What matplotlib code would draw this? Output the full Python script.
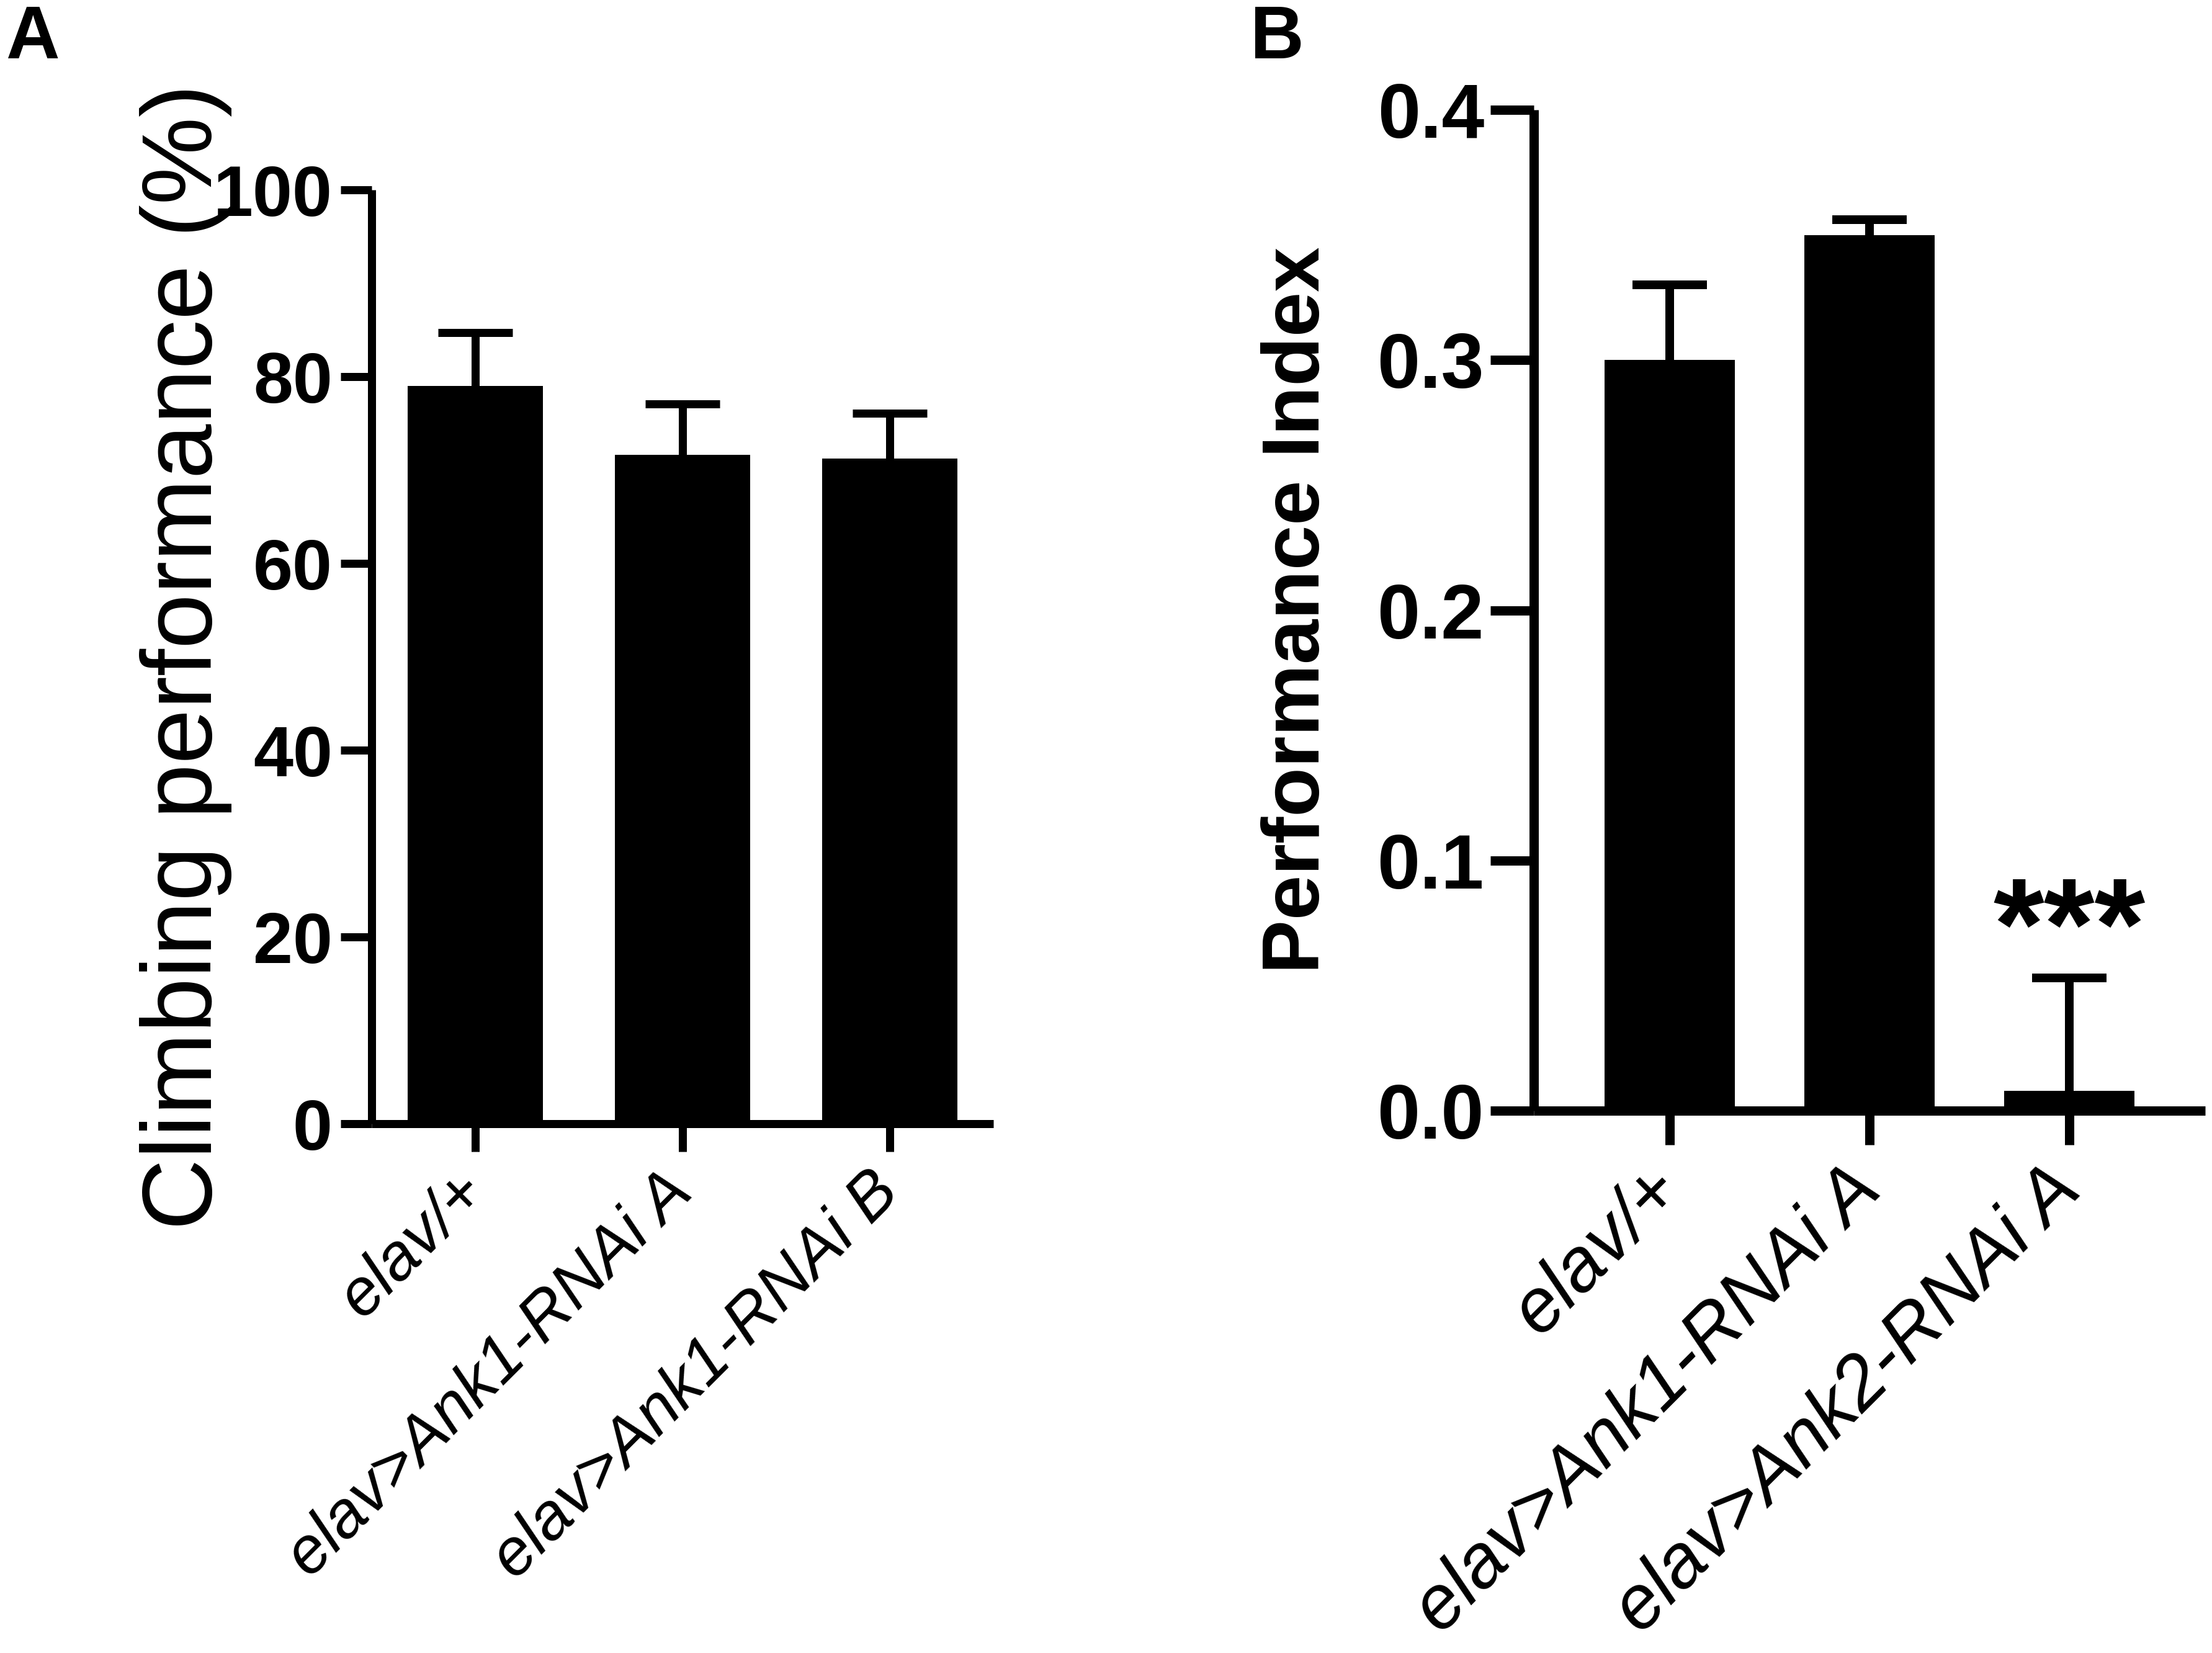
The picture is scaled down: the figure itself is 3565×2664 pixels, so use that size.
import matplotlib
matplotlib.use("Agg")
import matplotlib.pyplot as plt
import numpy as np

plt.rcParams['font.family'] = ['Liberation Sans', 'DejaVu Sans']

# ---- data ----
cats_a = ["elav/+", "elav>Ank1-RNAi A", "elav>Ank1-RNAi B"]
vals_a = [79.0, 71.6, 71.2]
err_a = [5.7, 5.5, 4.9]
yticks_a = [0, 20, 40, 60, 80, 100]

cats_b = ["elav/+", "elav>Ank1-RNAi A", "elav>Ank2-RNAi A"]
vals_b = [0.300, 0.350, 0.008]
err_b = [0.030, 0.006, 0.045]
yticks_b = [0.0, 0.1, 0.2, 0.3, 0.4]
ytick_labels_b = ["0.0", "0.1", "0.2", "0.3", "0.4"]
sig_b = ["", "", "***"]

W, H = 3565, 2664
DPI = 100
fig = plt.figure(figsize=(W / DPI, H / DPI), dpi=DPI)

def px2pt(p):
    return p * 72.0 / DPI

def fig_rect(l, r, b, t):
    return [l / W, 1 - b / H, (r - l) / W, (b - t) / H]

def upper_errorbars(ax, x, vals, errs, lw):
    eb = ax.errorbar(x, vals, yerr=[np.zeros(len(errs)), errs], fmt='none',
                     ecolor='black', elinewidth=lw, capsize=px2pt(60),
                     capthick=lw, zorder=1)
    for cl in eb[1]:
        if np.allclose(cl.get_ydata(), vals):
            cl.set_visible(False)
    return eb

# ---- Panel A ----
axA = fig.add_axes(fig_rect(599, 1601, 1811, 306))
xa = np.arange(len(cats_a))
axA.bar(xa, vals_a, width=0.65, color='black', edgecolor='none', zorder=2)
upper_errorbars(axA, xa, vals_a, err_a, px2pt(13))
axA.set_xlim(-0.5, 2.5)
axA.set_ylim(0, 100)
axA.set_yticks(yticks_a)
axA.set_yticklabels([str(v) for v in yticks_a], fontweight='bold', fontsize=px2pt(115))
axA.set_xticks(xa)
axA.set_xticklabels(cats_a, rotation=45, ha='right', va='center',
                    rotation_mode='anchor', fontstyle='italic', fontsize=px2pt(106))
for s in ['top', 'right']:
    axA.spines[s].set_visible(False)
for s in ['left', 'bottom']:
    axA.spines[s].set_linewidth(px2pt(13))
    axA.spines[s].set_capstyle('butt')
axA.tick_params(axis='y', length=px2pt(50), width=px2pt(13), pad=px2pt(13))
axA.tick_params(axis='x', length=px2pt(45), width=px2pt(13), pad=px2pt(50))
axA.set_ylabel("Climbing performance (%)", fontsize=px2pt(159))
axA.yaxis.label.set_va('baseline')
axA.yaxis.set_label_coords(-0.2575, 0.5)

# ---- Panel B ----
axB = fig.add_axes(fig_rect(2472, 3554, 1790, 177))
xb = np.arange(len(cats_b))
axB.bar(xb, vals_b, width=0.65, color='black', edgecolor='none', zorder=2)
upper_errorbars(axB, xb, vals_b, err_b, px2pt(14))
axB.set_xlim(-0.68, 2.68)
axB.set_ylim(0, 0.4)
axB.set_yticks(yticks_b)
axB.set_yticklabels(ytick_labels_b, fontweight='bold', fontsize=px2pt(124))
axB.set_xticks(xb)
axB.set_xticklabels(cats_b, rotation=45, ha='right', va='center',
                    rotation_mode='anchor', fontstyle='italic', fontsize=px2pt(122))
for s in ['top', 'right']:
    axB.spines[s].set_visible(False)
for s in ['left', 'bottom']:
    axB.spines[s].set_linewidth(px2pt(15))
    axB.spines[s].set_capstyle('butt')
axB.tick_params(axis='y', length=px2pt(70), width=px2pt(15), pad=px2pt(10))
axB.tick_params(axis='x', length=px2pt(55), width=px2pt(15), pad=px2pt(55))
axB.set_ylabel("Performance Index", fontsize=px2pt(130), fontweight='bold')
axB.yaxis.label.set_va('baseline')
axB.yaxis.set_label_coords(-0.320, 0.5)

for i, s in enumerate(sig_b):
    if s:
        axB.text(xb[i], vals_b[i] + err_b[i] - 0.007, s, ha='center', va='bottom',
                 fontsize=px2pt(210), fontweight='bold')

# panel letters
fig.text(52 / W, 1 - 63 / H, "A", ha='center', va='center', fontsize=px2pt(120), fontweight='bold')
fig.text(2058 / W, 1 - 63 / H, "B", ha='center', va='center', fontsize=px2pt(120), fontweight='bold')

fig.savefig("out.png", dpi=DPI, facecolor='white')
